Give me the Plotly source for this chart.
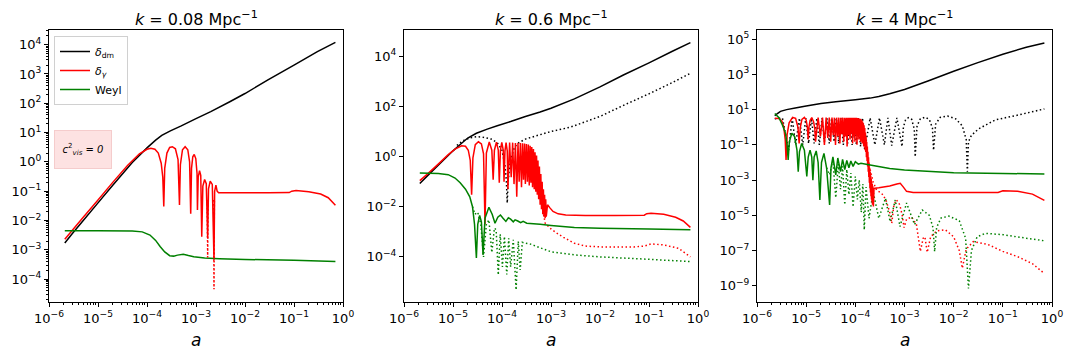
"""Density contrast and Weyl potential vs scale factor, three k values."""

import plotly.graph_objects as go

# ---------------- k = 0.08 Mpc^-1 ----------------
a1_dm = [2.1e-6, 3e-6, 5e-6, 1e-5, 2e-5, 5e-5, 1e-4, 1.5e-4, 2e-4, 3e-4, 5e-4, 1e-3, 2e-3, 5e-3,
         1e-2, 3e-2, 1e-1, 3e-1, 0.7]
d1_dm = [1.7e-3, 3.6e-3, 1.0e-2, 4.0e-2, 0.16, 0.95, 3.0, 5.5, 8.0, 11.5, 17, 30, 52, 115,
         215, 640, 2000, 5800, 1.2e4]

a1_g = [2.1e-6, 5e-6, 1e-5, 2e-5, 4e-5, 7e-5, 1e-4, 1.2e-4, 1.45e-4, 1.7e-4, 1.95e-4, 2.1e-4, 2.2e-4,
        2.3e-4, 2.55e-4, 2.9e-4, 3.3e-4, 3.8e-4, 4.3e-4, 4.6e-4,
        4.8e-4, 5.3e-4, 6.0e-4, 6.8e-4, 7.4e-4, 7.8e-4,
        8.1e-4, 8.6e-4, 9.2e-4, 9.9e-4, 1.05e-3, 1.07e-3,
        1.11e-3, 1.18e-3, 1.25e-3, 1.31e-3,
        1.38e-3, 1.5e-3, 1.62e-3, 1.73e-3,
        1.8e-3, 1.95e-3, 2.15e-3, 2.33e-3,
        2.4e-3, 2.55e-3, 2.7e-3, 2.9e-3,
        5e-3, 1e-2, 3e-2, 8e-2, 9e-2, 1.1e-1, 2e-1, 3.5e-1, 5e-1, 0.7]
d1_g = [2.3e-3, 1.3e-2, 5e-2, 0.2, 0.75, 1.9, 2.7, 2.9, 2.7, 2.0, 0.9, 0.3, 0.03,
        0.6, 2.0, 3.1, 3.3, 2.8, 1.2, 0.034,
        0.8, 2.6, 3.3, 2.6, 1.0, 0.017,
        0.6, 1.5, 1.8, 1.3, 0.4, 0.023,
        0.3, 0.5, 0.35, 2.8e-3,
        0.15, 0.25, 0.18, 2.5e-3,
        0.12, 0.22, 0.17, 4.5e-4,
        0.1, 0.16, 0.1, 0.088,
        0.088, 0.088, 0.088, 0.09, 0.1, 0.105, 0.095, 0.08, 0.06, 0.033]

a1_g_dot = [1.69e-3, 1.73e-3, 1.77e-3, None, 2.29e-3, 2.33e-3, 2.37e-3]
d1_g_dot = [0.05, 5.5e-4, 0.05, None, 0.05, 4.5e-5, 0.05]

a1_w = [2.1e-6, 1e-5, 5e-5, 8e-5, 1.15e-4, 1.5e-4, 1.85e-4, 2.3e-4, 2.9e-4, 3.5e-4, 4.2e-4, 5.5e-4,
        7e-4, 9e-4, 1.5e-3, 3e-3, 1e-2, 1e-1, 0.7]
d1_w = [4.5e-3, 4.5e-3, 4.4e-3, 4.1e-3, 3.2e-3, 2.1e-3, 1.3e-3, 8.5e-4, 6.3e-4, 6.1e-4, 6.6e-4, 7.1e-4,
        6.4e-4, 5.8e-4, 5.3e-4, 5.0e-4, 4.7e-4, 4.4e-4, 4.0e-4]

# ---------------- k = 0.6 Mpc^-1 ----------------
a2_dm = [2.1e-6, 3e-6, 5e-6, 1e-5, 1.5e-5, 2e-5, 3e-5, 5e-5, 8e-5, 1.5e-4, 3e-4, 6e-4, 1e-3, 3e-3,
         1e-2, 3e-2, 1e-1, 3e-1, 0.7]
d2_dm = [0.085, 0.17, 0.45, 1.7, 3.4, 5.5, 8.5, 12.5, 17, 25, 40, 60, 85, 200,
         600, 1800, 5500, 1.6e4, 3.5e4]

a2_dm_dot = [1.2e-5, 1.6e-5, 2.2e-5, 3e-5, 4e-5, 6e-5, 8e-5, 1e-4, 1.15e-4, 1.23e-4, 1.28e-4, 1.33e-4,
             1.45e-4, 1.7e-4, 2e-4, 3e-4, 6e-4, 1e-3, 2.5e-3, 1e-2, 3e-2, 1e-1, 3e-1, 0.7]
d2_dm_dot = [2.8, 4.3, 5.6, 6.2, 6.0, 5.0, 3.6, 1.8, 0.45, 0.1, 0.014, 0.1,
             0.5, 1.8, 3.2, 5.0, 7.5, 10, 15, 40, 110, 320, 900, 2100]

a2_g = [2.1e-6, 3e-6, 5e-6, 8e-6, 1.1e-5, 1.5e-5, 1.8e-5, 2.05e-5, 2.25e-5, 2.4e-5,
        2.55e-5, 2.85e-5, 3.3e-5, 3.8e-5, 4.2e-5, 4.5e-5,
        4.8e-5, 5.5e-5, 6.2e-5, 6.6e-5,
        7.0e-5, 7.7e-5, 8.4e-5, 8.8e-5,
        9.3e-5, 9.9e-5, 1.06e-4, 1.1e-4,
        1.15e-4, 1.21e-4, 1.28e-4, 1.32e-4,
        1.43e-4, 1.54e-4, 1.65e-4, 1.76e-4, 1.88e-4, 2.0e-4, 2.12e-4, 2.24e-4, 2.37e-4, 2.5e-4,
        2.62e-4, 2.75e-4, 2.88e-4, 3.0e-4, 3.15e-4, 3.3e-4, 3.45e-4, 3.6e-4, 3.75e-4, 3.9e-4,
        4.05e-4, 4.2e-4, 4.38e-4, 4.55e-4, 4.72e-4, 4.9e-4, 5.07e-4, 5.25e-4, 5.42e-4, 5.6e-4,
        5.8e-4, 6.0e-4, 6.2e-4, 6.4e-4, 6.6e-4, 6.8e-4, 7.0e-4, 7.2e-4, 7.4e-4, 7.6e-4,
        7.8e-4, 8.0e-4,
        8.5e-4, 9.5e-4, 1.1e-3, 1.4e-3, 2e-3, 5e-3, 2e-2, 8e-2, 9e-2, 1.1e-1, 2e-1, 3.5e-1, 5e-1, 0.7]
d2_g = [0.11, 0.2, 0.5, 1.2, 2.0, 2.7, 2.6, 1.8, 0.7, 0.03,
        0.9, 3.0, 3.9, 3.2, 1.3, 0.002,
        1.4, 3.8, 1.8, 0.12,
        1.8, 3.8, 1.8, 0.09,
        1.8, 3.7, 1.8, 0.1,
        1.7, 3.6, 1.7, 0.05,
        3.6, 0.15, 3.6, 0.08, 3.5, 0.025, 3.5, 0.1, 3.5, 0.06,
        3.4, 0.12, 3.3, 0.08, 3.2, 0.1, 3.0, 0.07, 2.7, 0.09,
        2.4, 0.06, 2.0, 0.05, 1.5, 0.04, 1.1, 0.03, 0.7, 0.02,
        0.4, 0.012, 0.2, 0.008, 0.1, 0.005, 0.05, 0.004, 0.03, 0.0035,
        0.02, 0.004,
        0.012, 0.009, 0.0065, 0.0052, 0.0047, 0.0045, 0.0045, 0.0046, 0.0053, 0.0055, 0.005, 0.0038,
        0.0027, 0.0015]

a2_g_dot = [6.5e-4, 7.2e-4, 7.6e-4, 8.5e-4, 9.5e-4, 1.3e-3, 1.8e-3, 3e-3, 5e-3, 1e-2, 5e-2, 8e-2,
            1.1e-1, 2e-1, 4e-1, 0.7]
d2_g_dot = [0.01, 0.004, 0.0022, 0.0018, 0.0014, 9e-4, 6e-4, 3.5e-4, 2.7e-4, 2.5e-4, 2.5e-4, 2.7e-4,
            3.3e-4, 3.0e-4, 2.2e-4, 1.0e-4]

a2_w = [2.1e-6, 5e-6, 8e-6, 1.1e-5, 1.4e-5, 1.8e-5, 2.2e-5, 2.5e-5, 2.75e-5, 3.0e-5,
        3.2e-5, 3.5e-5, 3.8e-5, 4.1e-5, 4.5e-5, 5.4e-5, 6.3e-5, 7.2e-5, 8.2e-5, 9.3e-5,
        1.05e-4, 1.2e-4, 1.35e-4, 1.5e-4, 1.7e-4, 1.85e-4, 2.1e-4, 2.4e-4, 2.7e-4, 3.2e-4,
        6e-4, 1e-3, 3e-3, 1e-2, 1e-1, 0.7]
d2_w = [0.22, 0.21, 0.19, 0.14, 0.09, 0.05, 0.025, 0.01, 0.002, 9e-5,
        2e-3, 4.5e-3, 2.5e-3, 1.2e-4, 3.5e-3, 9.5e-3, 5e-3, 2.2e-3, 3.8e-3, 4.7e-3,
        3.5e-3, 2.6e-3, 3.6e-3, 3.2e-3, 2.5e-3, 3.0e-3, 2.7e-3, 2.3e-3, 2.6e-3, 2.2e-3,
        2.0e-3, 1.8e-3, 1.5e-3, 1.4e-3, 1.3e-3, 1.2e-3]

a2_w_dot = [2.5e-5, 2.8e-5, 3.2e-5, 3.7e-5, 4.2e-5, 4.8e-5, 5.4e-5, 6.2e-5, 7.0e-5, 7.6e-5,
            8.4e-5, 9.2e-5, 1.02e-4, 1.12e-4, 1.25e-4, 1.37e-4, 1.5e-4, 1.7e-4, 1.94e-4, 2.15e-4,
            2.35e-4, 2.6e-4, 3e-4, 3.7e-4, 6e-4, 1e-3, 3e-3, 1e-2, 1e-1, 0.7]
d2_w_dot = [0.01, 5e-3, 6e-3, 2e-3, 1e-4, 2e-3, 3e-3, 1.5e-4, 1.4e-3, 1.2e-3,
            1.9e-5, 8e-4, 4e-5, 6.5e-4, 2e-5, 5.5e-4, 4e-5, 4.8e-4, 4.8e-6, 4.2e-4,
            3e-5, 3.8e-4, 3.5e-4, 3.3e-4, 2.3e-4, 1.6e-4, 1.2e-4, 1.0e-4, 8e-5, 6.5e-5]

# ---------------- k = 4 Mpc^-1 ----------------
a3_dm = [2.3e-6, 2.6e-6, 3e-6, 4e-6, 6e-6, 1e-5, 2e-5, 4e-5, 1e-4, 2e-4, 3e-4, 5e-4, 1e-3, 3e-3,
         1e-2, 3e-2, 1e-1, 3e-1, 0.7]
d3_dm = [4.5, 6, 8, 10, 12.5, 16, 22, 28, 36, 45, 55, 80, 140, 420,
         1500, 4500, 1.4e4, 3.5e4, 6e4]

a3_dm_dot = [2.3e-6, 3.3e-6, 4.4e-6, 5.2e-6, 6.1e-6, 7.3e-6, 8.5e-6, 9.8e-6, 1.12e-5, 1.28e-5,
             1.45e-5, 1.65e-5, 1.85e-5, 2.1e-5, 2.35e-5, 2.65e-5, 2.95e-5, 3.3e-5, 3.7e-5, 4.1e-5,
             4.6e-5, 5.1e-5, 5.7e-5, 6.3e-5, 7e-5, 7.8e-5, 8.6e-5, 9.5e-5, 1.05e-4, 1.15e-4,
             1.28e-4, 1.4e-4, 1.55e-4, 2.0e-4, 2.5e-4, 3.1e-4, 3.9e-4, 4.6e-4, 5.5e-4, 7e-4, 8.9e-4,
             9.5e-4, 1.05e-3, 1.2e-3, 1.4e-3, 1.58e-3, 1.65e-3,
             1.8e-3, 2.1e-3, 2.6e-3, 3.2e-3, 3.7e-3, 3.9e-3,
             4.3e-3, 5.3e-3, 7.5e-3, 1.1e-2, 1.5e-2, 1.8e-2, 1.9e-2,
             2.0e-2, 2.3e-2, 3.2e-2, 7e-2, 2.1e-1, 0.7]
d3_dm_dot = [3.0, 3.3, 0.05, 3.3, 0.1, 3.3, 0.1, 3.3, 0.12, 3.3,
             0.12, 3.3, 0.1, 3.3, 0.15, 3.3, 0.12, 3.3, 0.15, 3.3,
             0.12, 3.3, 0.1, 3.3, 0.12, 3.3, 0.1, 3.3, 0.1, 3.3,
             0.08, 3.4, 0.05, 3.4, 0.1, 3.4, 0.1, 3.4, 0.09, 3.4, 0.08,
             1.0, 2.6, 3.5, 2.8, 0.8, 0.021,
             1.2, 3.0, 3.7, 2.8, 0.9, 0.05,
             1.5, 3.6, 4.3, 3.0, 1.2, 0.2, 0.003,
             0.15, 0.35, 0.8, 2.6, 5.0, 11]

a3_g = [2.3e-6, 2.8e-6, 3.2e-6, 3.5e-6, 3.75e-6, 3.9e-6, 4.1e-6, 4.5e-6, 5.3e-6, 6.1e-6,
        6.8e-6, 7.2e-6, 7.6e-6, 8.2e-6, 9.2e-6, 1.0e-5, 1.06e-5, 1.1e-5, 1.14e-5, 1.2e-5,
        1.3e-5, 1.42e-5, 1.5e-5,
        1.55e-5, 1.75e-5, 1.95e-5, 2.15e-5, 2.35e-5, 2.55e-5, 2.75e-5, 2.95e-5, 3.15e-5, 3.35e-5,
        3.55e-5, 3.75e-5, 3.95e-5, 4.17e-5, 4.4e-5, 4.62e-5, 4.85e-5, 5.07e-5, 5.3e-5, 5.55e-5,
        5.8e-5, 6.05e-5, 6.3e-5, 6.55e-5, 6.8e-5, 7.05e-5, 7.3e-5, 7.55e-5, 7.8e-5, 8.05e-5,
        8.3e-5, 8.55e-5, 8.8e-5, 9.05e-5, 9.3e-5, 9.55e-5, 9.8e-5, 1.005e-4, 1.03e-4, 1.055e-4,
        1.08e-4, 1.105e-4, 1.13e-4, 1.155e-4, 1.18e-4, 1.205e-4, 1.23e-4, 1.255e-4, 1.28e-4, 1.305e-4,
        1.33e-4, 1.355e-4, 1.38e-4, 1.405e-4, 1.43e-4, 1.455e-4, 1.48e-4, 1.505e-4, 1.53e-4, 1.555e-4,
        1.58e-4, 1.605e-4, 1.63e-4, 1.655e-4, 1.68e-4, 1.705e-4, 1.73e-4, 1.755e-4, 1.78e-4, 1.805e-4,
        1.83e-4, 1.855e-4, 1.88e-4, 1.905e-4, 1.93e-4, 1.955e-4, 1.98e-4, 2.005e-4, 2.03e-4, 2.055e-4,
        2.08e-4, 2.105e-4, 2.13e-4, 2.155e-4, 2.18e-4, 2.205e-4, 2.23e-4, 2.27e-4, 2.33e-4, 2.4e-4,
        2.5e-4, 3e-4, 5e-4, 7e-4, 8.2e-4, 9.5e-4, 1.1e-3, 1.5e-3, 1e-2, 8e-2,
        1e-1, 2e-1, 4e-1, 0.7]
d3_g = [3.2, 3.1, 2.3, 1.0, 0.2, 0.014, 0.4, 1.8, 3.6, 3.2,
        1.0, 0.12, 1.0, 2.8, 3.6, 2.6, 1.0, 0.2, 1.0, 2.4,
        3.5, 2.0, 0.8,
        0.15, 3.5, 0.3, 3.5, 0.1, 3.5, 0.25, 3.5, 0.15, 3.5,
        0.35, 3.5, 0.1, 3.5, 0.3, 3.5, 0.12, 3.5, 0.4, 3.5,
        0.15, 3.5, 0.3, 3.5, 0.08, 3.5, 0.35, 3.5, 0.2, 3.5,
        0.45, 3.5, 0.12, 3.5, 0.3, 3.4, 0.15, 3.4, 0.4, 3.4,
        0.1, 3.3, 0.3, 3.2, 0.2, 3.1, 0.35, 3.0, 0.15, 2.8,
        0.3, 2.5, 0.12, 2.1, 0.2, 1.7, 0.08, 1.3, 0.1, 0.9,
        0.05, 0.5, 0.04, 0.28, 0.02, 0.15, 0.012, 0.08, 6e-3, 0.04,
        3e-3, 0.02, 1.5e-3, 0.01, 7e-4, 5e-3, 3.5e-4, 3e-3, 2e-4, 1.8e-3,
        1.2e-4, 1.2e-3, 8e-5, 8e-4, 6e-5, 6e-4, 4e-5, 4.5e-4, 3.2e-5, 3.3e-4,
        3.5e-4, 3.7e-4, 4.6e-4, 6e-4, 6.6e-4, 4e-4, 2.3e-4, 2.0e-4, 1.95e-4, 2.0e-4,
        2.5e-4, 2.3e-4, 1.6e-4, 7e-5]

a3_g_dot = [2.0e-4, 2.3e-4, 2.7e-4, 3.2e-4, 3.7e-4, 4.3e-4, 5e-4, 5.5e-4, 6.1e-4, 6.9e-4,
            8e-4, 9e-4, 9.8e-4, 1.1e-3, 1.4e-3, 1.75e-3, 2.1e-3, 2.4e-3, 2.6e-3, 2.9e-3,
            3.4e-3, 4.5e-3, 6.8e-3, 1e-2, 1.3e-2, 1.5e-2, 1.8e-2, 2.5e-2, 5e-2, 1e-1,
            2e-1, 4e-1, 0.7]
d3_g_dot = [4e-3, 8e-4, 2.7e-4, 2.0e-4, 1.4e-4, 6e-5, 1.5e-5, 3.5e-6, 4e-5, 7.4e-5,
            4e-5, 1e-5, 2e-6, 6e-6, 8e-6, 3e-6, 9e-8, 5e-7, 6e-7, 8e-8,
            6e-7, 1.3e-6, 1.5e-6, 6e-7, 1e-7, 1e-8, 1.2e-7, 3.2e-7, 2.2e-7, 9e-8,
            4.5e-8, 1.8e-8, 5e-9]

a3_w = [2.3e-6, 2.8e-6, 3.3e-6, 3.8e-6, 4.1e-6, 4.3e-6, 4.55e-6, 5.1e-6, 5.8e-6, 6.5e-6,
        6.9e-6, 7.3e-6, 8.1e-6, 9.2e-6, 1.03e-5, 1.1e-5, 1.2e-5, 1.3e-5, 1.37e-5, 1.45e-5,
        1.6e-5, 1.75e-5, 1.9e-5, 2.05e-5, 2.3e-5, 2.6e-5, 3.0e-5, 3.2e-5, 3.5e-5, 4.0e-5,
        4.4e-5, 5.0e-5, 5.5e-5, 6.1e-5, 6.7e-5, 7.4e-5, 8.1e-5, 9.0e-5, 1.0e-4, 1.15e-4,
        1.3e-4, 2e-4, 5e-4, 1e-3, 1e-2, 1e-1, 0.7]
d3_w = [6.0, 3.5, 1.3, 0.45, 0.1, 0.014, 0.15, 0.46, 0.3, 0.05,
        3e-3, 0.04, 0.12, 0.05, 1.6e-3, 0.02, 0.05, 0.02, 1e-3, 0.02,
        0.045, 0.01, 7.4e-5, 0.01, 0.033, 5e-3, 3.9e-5, 5e-3, 0.021, 2e-3,
        0.018, 3e-3, 0.015, 4e-3, 0.013, 5e-3, 0.012, 6e-3, 0.011, 8e-3,
        9e-3, 7.2e-3, 4.5e-3, 3.7e-3, 2.6e-3, 2.4e-3, 2.2e-3]

a3_w_dot = [2.6e-5, 3.0e-5, 3.5e-5, 4.0e-5, 4.5e-5, 5.0e-5, 5.5e-5, 6.1e-5, 6.7e-5, 7.4e-5,
            8.1e-5, 9.0e-5, 1.0e-4, 1.1e-4, 1.2e-4, 1.32e-4, 1.42e-4, 1.52e-4, 1.65e-4, 1.9e-4,
            2.3e-4, 3.0e-4, 4.1e-4, 5.1e-4, 6.5e-4, 8.1e-4, 1.1e-3, 1.6e-3, 2.3e-3, 3.2e-3,
            3.8e-3, 4.1e-3, 4.5e-3, 5.5e-3, 8e-3, 1.3e-2, 1.75e-2, 2.0e-2, 2.3e-2, 3e-2,
            4.4e-2, 1e-1, 3e-1, 0.7]
d3_w_dot = [5e-3, 2e-3, 0.012, 1e-4, 8e-3, 3e-4, 6e-3, 4e-5, 4e-3, 1.5e-4,
            2.5e-3, 3e-5, 1.6e-3, 8e-5, 1e-3, 1.5e-5, 6e-4, 1.5e-6, 4e-4, 6.8e-6,
            2.2e-4, 6.8e-6, 9.3e-5, 4.4e-6, 7.4e-5, 2.3e-6, 5e-5, 3e-6, 2e-5, 1e-5,
            2e-6, 8.7e-8, 2e-6, 7e-6, 9e-6, 5e-6, 5e-7, 7e-10, 1e-7, 6e-7,
            9.5e-7, 8e-7, 5e-7, 3.6e-7]

titles = ["0.08", "0.6", "4"]
x_exps = [-6, -5, -4, -3, -2, -1, 0]
y_exps = [
    [4, 3, 2, 1, 0, -1, -2, -3, -4],
    [4, 2, 0, -2, -4],
    [5, 3, 1, -1, -3, -5, -7, -9],
]
y_ranges = [[-4.78, 4.50], [-5.80, 5.05], [-9.92, 5.52]]

BLACK, RED, GREEN = "#000000", "#ff0000", "#008000"
FONT = "DejaVu Sans"
PAGE_PAD = 8                      # the page body margin in front of the figure
W, H = 1072 - PAGE_PAD, 357 - PAGE_PAD
panel_px = [(49, 343), (404, 698), (757, 1052)]


def fx(px):
    return (px - PAGE_PAD) / W


def fy(py):
    return 1 - (py - PAGE_PAD) / H


y_dom = [fy(302), fy(30)]


def power_label(e):
    sign = "\u2212" if e < 0 else ""
    return f"10<sup>{sign}{abs(e)}</sup>"


def add_line(fig, n, a, v, color, dotted=False, name=None):
    fig.add_trace(go.Scatter(
        x=a, y=v, mode="lines", name=name, showlegend=name is not None,
        line=dict(color=color, width=1.5, dash="1.5px,2.5px" if dotted else "solid", simplify=False),
        xaxis="x" if n == 1 else f"x{n}", yaxis="y" if n == 1 else f"y{n}",
    ))


fig = go.Figure()

add_line(fig, 1, a1_dm, d1_dm, BLACK, name="<i>δ</i><sub>dm</sub>")
add_line(fig, 1, a1_g, d1_g, RED, name="<i>δ</i><sub><i>γ</i></sub>")
add_line(fig, 1, a1_w, d1_w, GREEN, name="Weyl")
add_line(fig, 1, a1_g_dot, d1_g_dot, RED, dotted=True)

add_line(fig, 2, a2_dm_dot, d2_dm_dot, BLACK, dotted=True)
add_line(fig, 2, a2_g_dot, d2_g_dot, RED, dotted=True)
add_line(fig, 2, a2_w_dot, d2_w_dot, GREEN, dotted=True)
add_line(fig, 2, a2_dm, d2_dm, BLACK)
add_line(fig, 2, a2_g, d2_g, RED)
add_line(fig, 2, a2_w, d2_w, GREEN)

add_line(fig, 3, a3_dm_dot, d3_dm_dot, BLACK, dotted=True)
add_line(fig, 3, a3_g_dot, d3_g_dot, RED, dotted=True)
add_line(fig, 3, a3_w_dot, d3_w_dot, GREEN, dotted=True)
add_line(fig, 3, a3_dm, d3_dm, BLACK)
add_line(fig, 3, a3_g, d3_g, RED)
add_line(fig, 3, a3_w, d3_w, GREEN)

x_minor = [m * 10 ** e for e in range(-6, 0) for m in range(2, 10)]
y1_minor = [m * 10.0 ** e for e in range(-5, 5) for m in range(2, 10)]
minor_style = dict(ticks="outside", ticklen=2, tickwidth=0.8, tickcolor="black")
axis_common = dict(
    type="log", showline=True, mirror=True, linecolor="black", linewidth=1,
    ticks="outside", ticklen=4, tickwidth=1, tickcolor="black",
    showgrid=False, zeroline=False, tickmode="array", automargin=False,
    tickfont=dict(family=FONT, size=13, color="black"),
)

annotations = []
for i in range(3):
    n = i + 1
    x0, x1 = panel_px[i]
    sfx = "" if n == 1 else str(n)
    fig.layout[f"xaxis{sfx}"] = dict(
        axis_common, domain=[fx(x0), fx(x1)], range=[-6, 0], anchor=f"y{sfx}",
        tickvals=[10 ** e for e in x_exps], ticktext=[power_label(e) for e in x_exps],
        minor=dict(minor_style, tickvals=x_minor),
    )
    ycfg = dict(
        axis_common, domain=y_dom, range=y_ranges[i], anchor=f"x{sfx}",
        tickvals=[10.0 ** e for e in y_exps[i]], ticktext=[power_label(e) for e in y_exps[i]],
    )
    if n == 1:
        ycfg["minor"] = dict(minor_style, tickvals=y1_minor)
    fig.layout[f"yaxis{sfx}"] = ycfg
    xc = fx((x0 + x1) / 2)
    annotations.append(dict(
        text=f"<i>k</i> = {titles[i]} Mpc<sup>\u22121</sup>", x=xc, y=fy(18),
        xanchor="center", yanchor="middle",
        xref="paper", yref="paper", showarrow=False, font=dict(family=FONT, size=16, color="black"),
    ))
    annotations.append(dict(
        text="<i>a</i>", x=xc, y=fy(340), xanchor="center", yanchor="middle",
        xref="paper", yref="paper", showarrow=False,
        font=dict(family=FONT, size=17, color="black"),
    ))

annotations.append(dict(
    text="<i>c</i><sup>2</sup><sub><i>vis</i></sub><i> = 0</i>", x=fx(83), y=fy(149),
    xanchor="center", yanchor="middle",
    xref="paper", yref="paper", showarrow=False, width=54, height=35,
    bgcolor="#fde2e2", bordercolor="#f5cccc", borderwidth=1,
    font=dict(family=FONT, size=10, color="black"),
))

fig.update_layout(
    width=W, height=H, margin=dict(l=0, r=0, t=0, b=0, autoexpand=False),
    paper_bgcolor="white", plot_bgcolor="white",
    font=dict(family=FONT, color="black"),
    annotations=annotations,
    legend=dict(
        x=fx(54), y=fy(36), xanchor="left", yanchor="top",
        bgcolor="white", bordercolor="#d0d0d0", borderwidth=1,
        font=dict(family=FONT, size=11, color="black"), itemwidth=30, tracegroupgap=0,
    ),
)

fig.write_html("out.html")
